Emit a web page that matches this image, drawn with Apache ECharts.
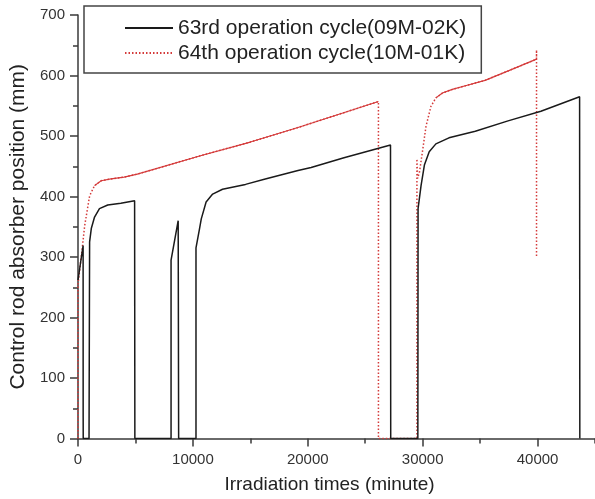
<!DOCTYPE html>
<html>
<head>
<meta charset="utf-8">
<script src="https://cdn.jsdelivr.net/npm/echarts@6/dist/echarts.min.js"></script>
<style>
html,body{margin:0;padding:0;background:#fff;}
#chart{width:595px;height:499px;}
</style>
</head>
<body>
<div id="chart"></div>
<script>
// ---- data (minutes, mm) ----
const seriesNames = ['63rd operation cycle(09M-02K)', '64th operation cycle(10M-01K)'];
const xTicks = [0, 10000, 20000, 30000, 40000];
const yTicks = [0, 100, 200, 300, 400, 500, 600, 700];

const black63 = [
  [0,262],[445,319],[450,35],[455,0],[960,0],[1010,325],[1157,347],[1440,366],[1868,380],
  [2588,386],[3727,389],[4927,393],[4950,0],[8100,0],[8100,295],[8720,360],[8760,0],
  [10270,0],[10270,315],[10580,347],[10730,363],[11150,391],[11720,404],[12580,412],
  [14580,420],[16300,429],[19150,443],[20290,448],[23150,464],[26010,479],[27200,485],
  [27220,0],[29580,0],[29600,380],[29860,418],[30150,452],[30570,474],[31150,487],
  [32290,497],[34580,508],[37430,525],[40290,541],[43660,565],[43680,0]
];

const redStart = [[0,0],[0,255],[300,303],[583,352],[1011,401]];
const redSlopeA = [[1440,418],[2014,426],[2870,429],[4010,432],[5160,437],[10580,467],[15000,490],[19150,514],[26150,557]];
const redGap = [[26150,0],[29500,0],[29500,462],[29560,430],[29720,440],[30010,478],[30290,516],[30720,549]];
const redSlopeB = [[31150,563],[31720,571],[32580,577],[33720,583],[35430,592],[37500,608],[39910,627]];
const redEnd = [[39910,642],[39910,300]];

const red64 = [].concat(redStart, redSlopeA, redGap, redSlopeB, redEnd);
const red64Solid = [].concat(redSlopeA, [[null, null]], redSlopeB);

const FONT = '"Liberation Sans", Arial, sans-serif';
const RED = '#d43a3a';
const BLACK = '#1a1a1a';
const AXIS = '#3a3a3a';

const chart = echarts.init(document.getElementById('chart'), null, {renderer: 'canvas'});
chart.setOption({
  animation: false,
  backgroundColor: '#fff',
  textStyle: {fontFamily: FONT},
  grid: {left: 76.5, right: -6.7, top: 15, bottom: 58},
  legend: {
    data: seriesNames,
    orient: 'vertical',
    left: 84, top: 6,
    padding: [11.5, 15, 9.5, 40],
    itemWidth: 48, itemHeight: 14, itemGap: 4, itemTextGap: 6,
    borderColor: '#444', borderWidth: 1.5,
    itemStyle: {color: 'transparent', borderColor: 'transparent', borderWidth: 0, opacity: 0},
    textStyle: {fontFamily: FONT, fontSize: 21, color: '#222', lineHeight: 21}
  },
  xAxis: [{
    type: 'value', min: 0, max: 45000, interval: 10000,
    name: 'Irradiation times (minute)', nameLocation: 'middle', nameGap: 36.5,
    nameTextStyle: {fontFamily: FONT, fontSize: 19, color: '#222', padding: [0, 14, 0, 0]},
    axisLine: {show: true, onZero: false, lineStyle: {color: AXIS, width: 1.5}},
    axisTick: {show: true, length: 8, lineStyle: {color: AXIS, width: 1.5}},
    axisLabel: {show: true, margin: 14, fontFamily: FONT, fontSize: 15, color: '#333',
      showMaxLabel: false,
      formatter: v => (xTicks.indexOf(v) >= 0 ? String(v) : '')},
    splitLine: {show: false}
  }, {
    type: 'value', min: 0, max: 45000, interval: 5000, position: 'bottom',
    axisLine: {show: false},
    axisTick: {show: true, length: 5, lineStyle: {color: AXIS, width: 1.5}},
    axisLabel: {show: false},
    splitLine: {show: false}
  }],
  yAxis: {
    type: 'value', min: 0, max: 700, interval: 100,
    name: 'Control rod absorber position (mm)', nameLocation: 'middle', nameGap: 49,
    nameTextStyle: {fontFamily: FONT, fontSize: 21, color: '#222'},
    axisLine: {show: true, onZero: false, lineStyle: {color: AXIS, width: 1.5}},
    axisTick: {show: true, length: 8, lineStyle: {color: AXIS, width: 1.5}},
    minorTick: {show: true, splitNumber: 2, length: 5, lineStyle: {color: AXIS, width: 1.5}},
    axisLabel: {margin: 13, fontFamily: FONT, fontSize: 15, color: '#333',
      formatter: v => (yTicks.indexOf(v) >= 0 ? String(v) : '')},
    splitLine: {show: false}
  },
  series: [{
    name: seriesNames[0], type: 'line', data: black63, symbol: 'none',
    lineStyle: {color: BLACK, width: 1.5}, itemStyle: {color: BLACK}, z: 3
  }, {
    name: seriesNames[1], type: 'line', data: red64, symbol: 'none',
    lineStyle: {color: RED, width: 1.5, type: [1.5, 2]}, itemStyle: {color: RED}, z: 2
  }, {
    name: '64th-solid-overlay', type: 'line', data: red64Solid, symbol: 'none',
    connectNulls: false,
    lineStyle: {color: RED, width: 1.2}, itemStyle: {color: RED}, z: 2
  }]
});
</script>
</body>
</html>
